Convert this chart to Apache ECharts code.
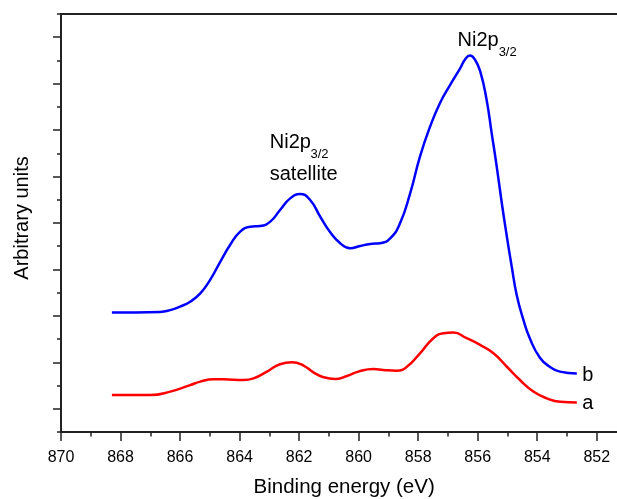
<!DOCTYPE html>
<html>
<head>
<meta charset="utf-8">
<script src="https://cdn.jsdelivr.net/npm/echarts@6/dist/echarts.min.js"></script>
<style>
  html, body { margin: 0; padding: 0; background: #fff; }
  #chart { width: 617px; height: 499px; }
</style>
</head>
<body>
<div id="chart"></div>
<script>
// Ni 2p3/2 region, two samples (a, b); intensity in arbitrary units
const energyB = [868.29, 867.50, 866.67, 866.33, 866.00, 865.66, 865.32, 864.99, 864.65, 864.32,
                 863.98, 863.64, 863.31, 862.97, 862.64, 862.30, 861.97, 861.63, 861.29, 860.96,
                 860.62, 860.29, 859.95, 859.61, 859.28, 858.94, 858.61, 858.27, 857.94, 857.60,
                 857.27, 856.93, 856.59, 856.42, 856.26, 856.10, 855.92, 855.70, 855.53, 855.36,
                 855.19, 855.02, 854.86, 854.69, 854.47, 854.24, 853.91, 853.57, 853.24, 852.67];
const countsB = [5.15, 5.15, 5.17, 5.25, 5.40, 5.61, 5.97, 6.55, 7.33, 8.05,
                 8.63, 8.84, 8.87, 9.06, 9.56, 10.06, 10.25, 9.99, 9.27, 8.61,
                 8.13, 7.91, 8.01, 8.10, 8.13, 8.34, 8.99, 10.28, 11.86, 13.15,
                 14.16, 14.94, 15.66, 16.05, 16.21, 16.05, 15.55, 14.30, 12.86, 11.42,
                 9.85, 8.41, 7.15, 5.90, 4.85, 4.00, 3.20, 2.80, 2.60, 2.52];

const energyA = [868.29, 867.00, 866.33, 865.66, 865.32, 864.88, 864.54, 863.87, 863.53, 863.08,
                 862.64, 862.24, 861.85, 861.52, 861.18, 860.79, 860.40, 860.01, 859.50, 859.17,
                 858.72, 858.38, 857.94, 857.49, 857.15, 856.82, 856.37, 855.92, 855.47, 855.02,
                 854.58, 854.13, 853.68, 853.23, 852.67];
const countsA = [1.59, 1.59, 1.74, 2.02, 2.17, 2.27, 2.27, 2.24, 2.31, 2.60,
                 2.92, 3.00, 2.86, 2.57, 2.36, 2.28, 2.41, 2.60, 2.71, 2.67,
                 2.64, 2.81, 3.39, 4.04, 4.25, 4.28, 4.04, 3.75, 3.39, 2.81,
                 2.24, 1.74, 1.45, 1.30, 1.27];

const seriesNames = ['a', 'b'];
const peakText = ['Ni2p', '3/2', 'satellite'];

const FONT = 'Liberation Sans, Arial, Helvetica, sans-serif';
const INK = '#222';

const pairs = (xs, ys) => xs.map((x, i) => [x, ys[i]]);
const last = (arr) => arr[arr.length - 1];

// text placed at a data coordinate (left edge, vertical centre), nudged by dx/dy pixels
const note = (coord, text, size, dx, dy) => ({
  value: coord,
  label: {
    show: true, formatter: text, position: [dx || 0, dy || 0], align: 'left', verticalAlign: 'middle',
    fontSize: size, color: '#000', fontFamily: FONT, textBorderWidth: 0, opacity: 1
  }
});

const chart = echarts.init(document.getElementById('chart'), null, { renderer: 'canvas' });

chart.setOption({
  animation: false,
  backgroundColor: '#fff',
  grid: {
    left: 61, top: 14, bottom: 67, right: -39.3,
    outerBoundsMode: 'none', containLabel: false,
    show: true, borderColor: INK, borderWidth: 2, backgroundColor: 'transparent'
  },
  xAxis: {
    type: 'value', inverse: true, min: 850, max: 870, interval: 2,
    name: 'Binding energy (eV)', nameLocation: 'middle', nameGap: 45,
    nameTextStyle: { fontSize: 20.5, color: '#000', fontFamily: FONT, padding: [0, 29, 0, 0] },
    axisLine: { show: true, lineStyle: { color: INK, width: 2 } },
    axisTick: { show: true, inside: false, length: 9, lineStyle: { color: INK, width: 1.5 } },
    minorTick: { show: true, splitNumber: 2, length: 4.5, lineStyle: { color: INK, width: 1.5 } },
    axisLabel: { fontSize: 16, color: '#000', fontFamily: FONT, margin: 18 },
    splitLine: { show: false }, minorSplitLine: { show: false }
  },
  yAxis: [
    {
      type: 'value', min: 0, max: 18, position: 'left',
      name: 'Arbitrary units', nameLocation: 'middle', nameGap: 29,
      nameTextStyle: { fontSize: 20, color: '#000', fontFamily: FONT, padding: [0, 0, 0, 10] },
      axisLine: { show: true, lineStyle: { color: INK, width: 2 } },
      axisTick: { show: true, length: 8, customValues: [1, 3, 5, 7, 9, 11, 13, 15, 17],
                  lineStyle: { color: INK, width: 1.5 } },
      axisLabel: { show: false },
      splitLine: { show: false }
    },
    {
      type: 'value', min: 0, max: 18, interval: 2, position: 'left', offset: 0,
      axisLine: { show: false },
      axisTick: { show: true, length: 4, lineStyle: { color: INK, width: 1.5 } },
      axisLabel: { show: false },
      splitLine: { show: false }
    }
  ],
  series: [
    {
      name: seriesNames[0], type: 'line', data: pairs(energyA, countsA),
      smooth: 0.5, showSymbol: false, symbol: 'none',
      lineStyle: { color: '#ff0000', width: 2.5 }
    },
    {
      name: seriesNames[1], type: 'line', data: pairs(energyB, countsB),
      smooth: 0.5, showSymbol: false, symbol: 'none',
      lineStyle: { color: '#0000ff', width: 2.5 }
    },
    {
      name: 'labels', type: 'scatter', symbolSize: 1, silent: true,
      itemStyle: { color: 'rgba(0,0,0,0)' },
      data: [
        note([856.66, 16.82], peakText[0], 20),
        note([855.28, 16.32], peakText[1], 13),
        note([862.97, 12.45], peakText[0], 20),
        note([861.60, 11.93], peakText[1], 13),
        note([862.97, 11.07], peakText[2], 20),
        note([last(energyB), last(countsB)], seriesNames[1], 20, 6, 3),
        note([last(energyA), last(countsA)], seriesNames[0], 20, 6, 1)
      ]
    }
  ]
});
</script>
</body>
</html>
